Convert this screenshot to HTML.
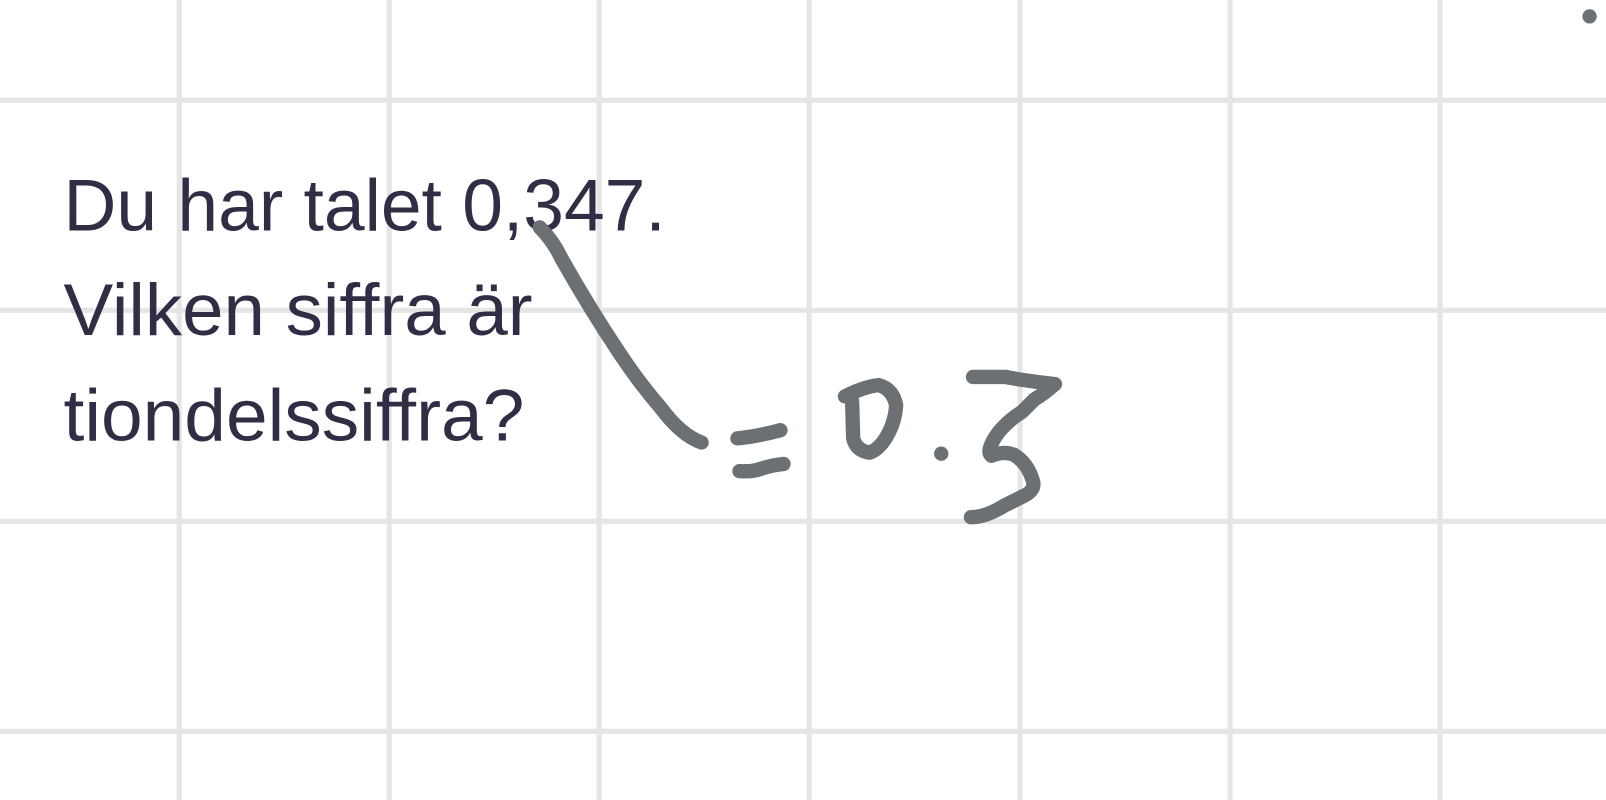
<!DOCTYPE html>
<html><head><meta charset="utf-8"><style>
html,body{margin:0;padding:0;background:#fff;}
svg{display:block}
</style></head><body>
<svg width="1606" height="800" viewBox="0 0 1606 800">
<g transform="scale(1.0242)">
<g id="grid" stroke="#e5e5e5" stroke-width="5"></g>
<g fill="#2f2e45" font-family="Liberation Sans, sans-serif" font-size="72">
<text x="62" y="225" textLength="588" lengthAdjust="spacingAndGlyphs">Du har talet 0,347.</text>
<text x="62" y="327" textLength="458" lengthAdjust="spacingAndGlyphs">Vilken siffra är</text>
<text x="62" y="430" textLength="450" lengthAdjust="spacingAndGlyphs">tiondelssiffra?</text>
</g>
<g fill="none" stroke="#6b7075" stroke-width="14" stroke-linecap="round" stroke-linejoin="round">
<path d="M527,222 Q540,235 548,252 Q575,300 605,345 Q625,375 645,398 Q665,425 685,432"/>
<path d="M720,428 Q740,426 762,420"/>
<path d="M722,460 Q735,461 745,457 Q755,454 765,453"/>
<path d="M825,387 Q845,377 858,376 Q872,380 875,396 Q874,410 868,422 Q860,438 849,442 Q836,440 833,428 L832,392"/>
<path d="M950,368 L982,368 Q995,371 1030,375 Q1020,384 1010,390 L998,402 Q985,410 975,422 Q962,440 968,445 Q980,440 990,444 Q1003,452 1008,468 Q1012,478 1000,484 L980,494 Q962,505 948,505"/>
</g>
<circle cx="919" cy="443" r="7" fill="#6b7075"/>
<circle cx="1552" cy="16" r="7" fill="#6b7075"/>
</g>
</svg>
<script>
const g=document.getElementById('grid');
const xs=[175,380,585,790,996,1201,1406];
const ys=[98,303,509,714];
xs.forEach(x=>{const l=document.createElementNS('http://www.w3.org/2000/svg','line');
l.setAttribute('x1',x);l.setAttribute('x2',x);l.setAttribute('y1',0);l.setAttribute('y2',800);


g.appendChild(l);});
ys.forEach(y=>{const l=document.createElementNS('http://www.w3.org/2000/svg','line');
l.setAttribute('x1',0);l.setAttribute('x2',1606);l.setAttribute('y1',y);l.setAttribute('y2',y);


g.appendChild(l);});
</script>
</body></html>
